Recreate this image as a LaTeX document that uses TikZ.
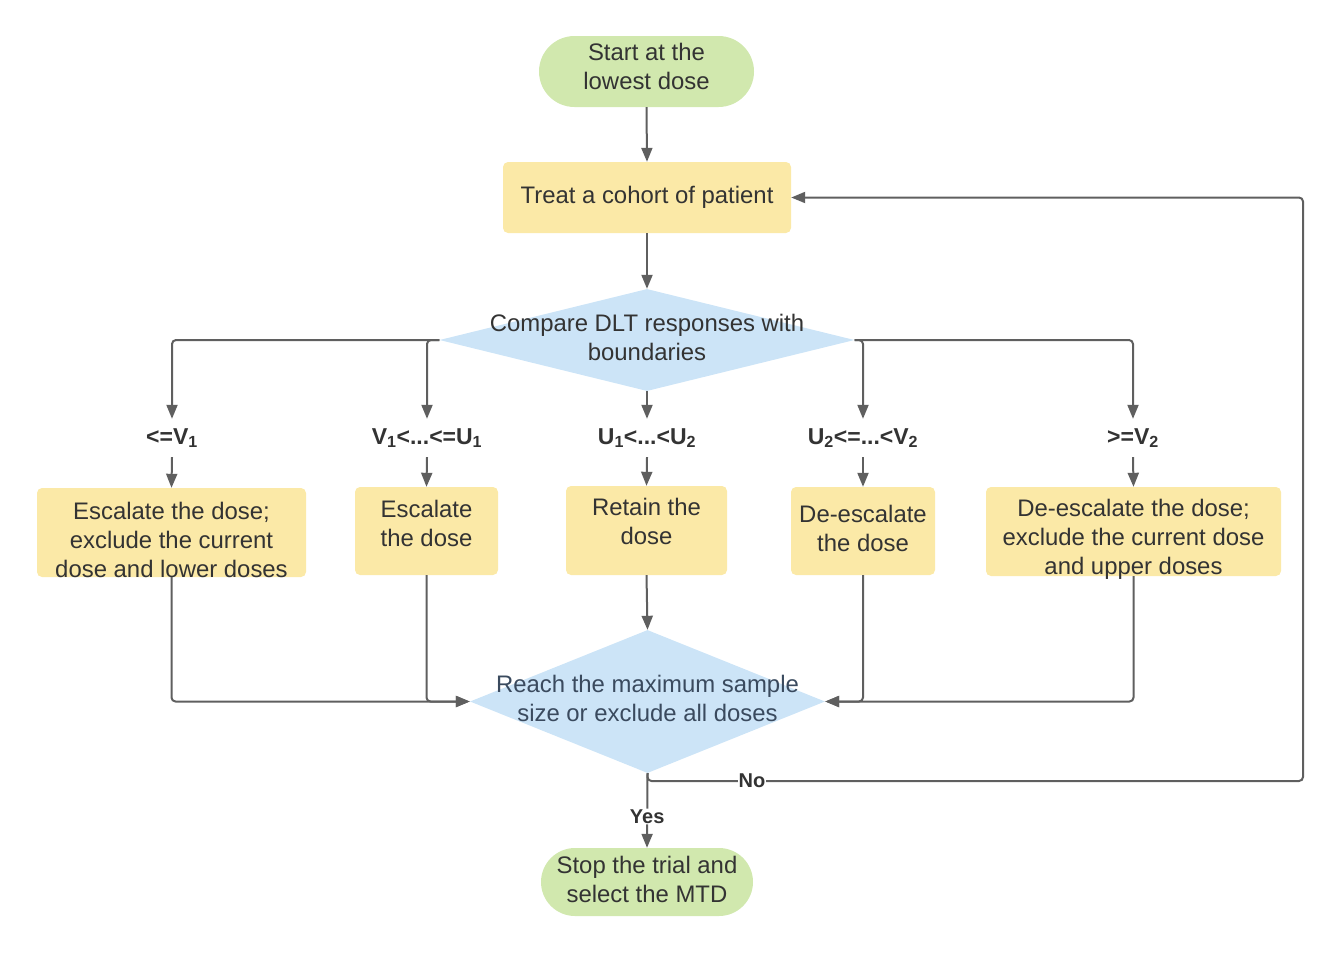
\documentclass[tikz,border=0pt]{standalone}
\usepackage{fontspec}
\setmainfont{Liberation Sans}
\usetikzlibrary{arrows.meta,shapes.geometric,shapes.misc}
\definecolor{gr}{HTML}{D1E8AE}
\definecolor{yl}{HTML}{FBE9A7}
\definecolor{bl}{HTML}{CCE4F7}
\definecolor{ln}{HTML}{5F5F5F}
\definecolor{txt}{HTML}{333333}
\definecolor{txtb}{HTML}{3A4A5E}
\begin{document}
\begin{tikzpicture}[x=1pt,y=-1pt,
  every node/.style={text=txt, font=\fontsize{23.9}{29}\selectfont, align=center},
  term/.style={rounded rectangle, fill=gr, inner sep=0pt},
  proc/.style={rectangle, rounded corners=5pt, fill=yl, inner sep=0pt},
  dec/.style={diamond, fill=bl, inner sep=0pt},
  cond/.style={font=\bfseries\fontsize{23}{27}\selectfont, minimum height=38pt, inner sep=0pt},
  conn/.style={draw=ln, line width=2pt, -{Triangle[length=14pt,width=11pt]}, rounded corners=4pt},
  yn/.style={font=\bfseries\fontsize{20}{24}\selectfont, fill=white, inner sep=1pt}
]
\useasboundingbox (0,0) rectangle (1339,954);

% terminals
\node[term, minimum width=215pt, minimum height=71pt, text depth=10pt] (start) at (646.5,71.5) {Start at the\\lowest dose};
\node[term, minimum width=212pt, minimum height=68pt, text depth=6pt] (stop) at (647,882) {Stop the trial and\\select the MTD};

% treat
\node[proc, minimum width=288pt, minimum height=71pt] (treat) at (647,197.5) {Treat a cohort of patient};

% decision 1
\node[dec, minimum width=415pt, minimum height=102pt] (d1) at (647,340) {};
\node (d1t) at (647,337) {Compare DLT responses with\\boundaries};

% conditions
\node[cond] (l1) at (172,438) {<=V\textsubscript{1}};
\node[cond] (l2) at (427,438) {V\textsubscript{1}<...<=U\textsubscript{1}};
\node[cond] (l3) at (647,438) {U\textsubscript{1}<...<U\textsubscript{2}};
\node[cond] (l4) at (863,438) {U\textsubscript{2}<=...<V\textsubscript{2}};
\node[cond] (l5) at (1133,438) {>=V\textsubscript{2}};

% action boxes
\node[proc, minimum width=269pt, minimum height=89pt, text height=89pt, text depth=0pt] (b1) at (171.5,532.5) {Escalate the dose;\\exclude the current\\dose and lower doses};
\node[proc, minimum width=143pt, minimum height=88pt, text depth=16pt] (b2) at (426.5,531) {Escalate\\the dose};
\node[proc, minimum width=161pt, minimum height=89pt, text depth=18pt] (b3) at (646.5,530.5) {Retain the\\dose};
\node[proc, minimum width=144pt, minimum height=88pt, text depth=6pt] (b4) at (863,531) {De-escalate\\the dose};
\node[proc, minimum width=295pt, minimum height=89pt, text height=86pt, text depth=0pt] (b5) at (1133.5,531.5) {De-escalate the dose;\\exclude the current dose\\and upper doses};

% decision 2
\node[dec, minimum width=355pt, minimum height=143pt] (d2) at (647.5,701.5) {};
\node[text=txtb] (d2t) at (647.5,698.5) {Reach the maximum sample\\size or exclude all doses};

\coordinate (c) at (1303,781);

% connectors
\draw[conn] (start.south) -- (treat.north);
\draw[conn] (treat.south) -- (d1.north);
\draw[conn] (d1.west) -| (l1.north);
\draw[conn] (d1.west) -| (l2.north);
\draw[conn] (d1.south) -- (l3.north);
\draw[conn] (d1.east) -| (l4.north);
\draw[conn] (d1.east) -| (l5.north);
\draw[conn] (l1.south) -- (b1.north);
\draw[conn] (l2.south) -- (b2.north);
\draw[conn] (l3.south) -- (b3.north);
\draw[conn] (l4.south) -- (b4.north);
\draw[conn] (l5.south) -- (b5.north);
\draw[conn] (b1.south) |- (d2.west);
\draw[conn] (b2.south) |- (d2.west);
\draw[conn] (b3.south) -- (d2.north);
\draw[conn] (b4.south) |- (d2.east);
\draw[conn] (b5.south) |- (d2.east);
\draw[conn] (d2.south) -- node[yn, pos=0.58] (yes) {Yes} (stop.north);
\draw[conn] (d2.south) |- (c) |- (treat.east);
\node[yn] (no) at (752,781) {No};
\end{tikzpicture}
\end{document}
